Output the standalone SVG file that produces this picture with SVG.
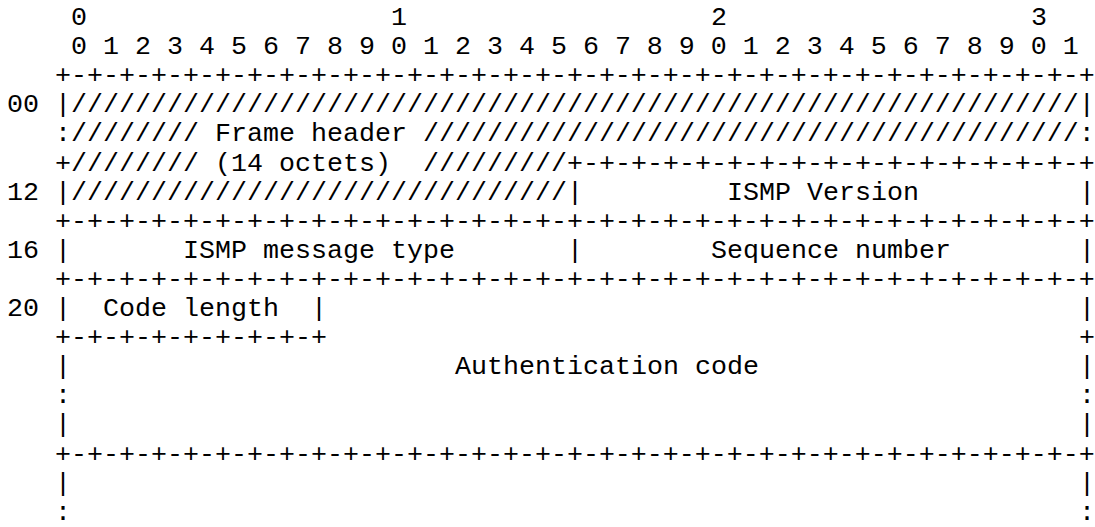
<svg xmlns="http://www.w3.org/2000/svg" width="1095" height="527" viewBox="0 0 1095 527">
<style>
.t{font-family:"Liberation Mono","Courier New",monospace;font-size:26.67px;fill:#000;white-space:pre}
</style>
<rect width="1095" height="527" fill="#fff"/>
<g id="packet" class="t">
<text x="71" y="25">0</text><text x="391" y="25">1</text><text x="711" y="25">2</text><text x="1031" y="25">3</text>
<text x="71" y="54.1">0 1 2 3 4 5 6 7 8 9 0 1 2 3 4 5 6 7 8 9 0 1 2 3 4 5 6 7 8 9 0 1</text>
<text x="55" y="83.2">+-+-+-+-+-+-+-+-+-+-+-+-+-+-+-+-+-+-+-+-+-+-+-+-+-+-+-+-+-+-+-+-+</text>
<text x="7" y="112.3">00</text>
<text x="55" y="112.3">|///////////////////////////////////////////////////////////////|</text>
<text x="55" y="141.4">:////////</text><text x="215" y="141.4">Frame header</text>
<text x="423" y="141.4">/////////////////////////////////////////:</text>
<text x="55" y="170.5">+////////</text><text x="215" y="170.5">(14 octets)</text>
<text x="423" y="170.5">/////////+-+-+-+-+-+-+-+-+-+-+-+-+-+-+-+-+</text>
<text x="7" y="199.6">12</text>
<text x="55" y="199.6">|///////////////////////////////|</text>
<text x="727" y="199.6">ISMP Version</text><text x="1079" y="199.6">|</text>
<text x="55" y="228.7">+-+-+-+-+-+-+-+-+-+-+-+-+-+-+-+-+-+-+-+-+-+-+-+-+-+-+-+-+-+-+-+-+</text>
<text x="7" y="257.8">16</text>
<text x="55" y="257.8">|</text><text x="183" y="257.8">ISMP message type</text>
<text x="567" y="257.8">|</text><text x="711" y="257.8">Sequence number</text><text x="1079" y="257.8">|</text>
<text x="55" y="286.9">+-+-+-+-+-+-+-+-+-+-+-+-+-+-+-+-+-+-+-+-+-+-+-+-+-+-+-+-+-+-+-+-+</text>
<text x="7" y="316">20</text>
<text x="55" y="316">|</text><text x="103" y="316">Code length</text>
<text x="311" y="316">|</text><text x="1079" y="316">|</text>
<text x="55" y="345.1">+-+-+-+-+-+-+-+-+</text><text x="1079" y="345.1">+</text>
<text x="55" y="374.2">|</text><text x="455" y="374.2">Authentication code</text><text x="1079" y="374.2">|</text>
<text x="55" y="403.3">:</text><text x="1079" y="403.3">:</text>
<text x="55" y="432.4">|</text><text x="1079" y="432.4">|</text>
<text x="55" y="461.5">+-+-+-+-+-+-+-+-+-+-+-+-+-+-+-+-+-+-+-+-+-+-+-+-+-+-+-+-+-+-+-+-+</text>
<text x="55" y="490.6">|</text><text x="1079" y="490.6">|</text>
<text x="55" y="519.7">:</text><text x="1079" y="519.7">:</text>
</g>
</svg>
